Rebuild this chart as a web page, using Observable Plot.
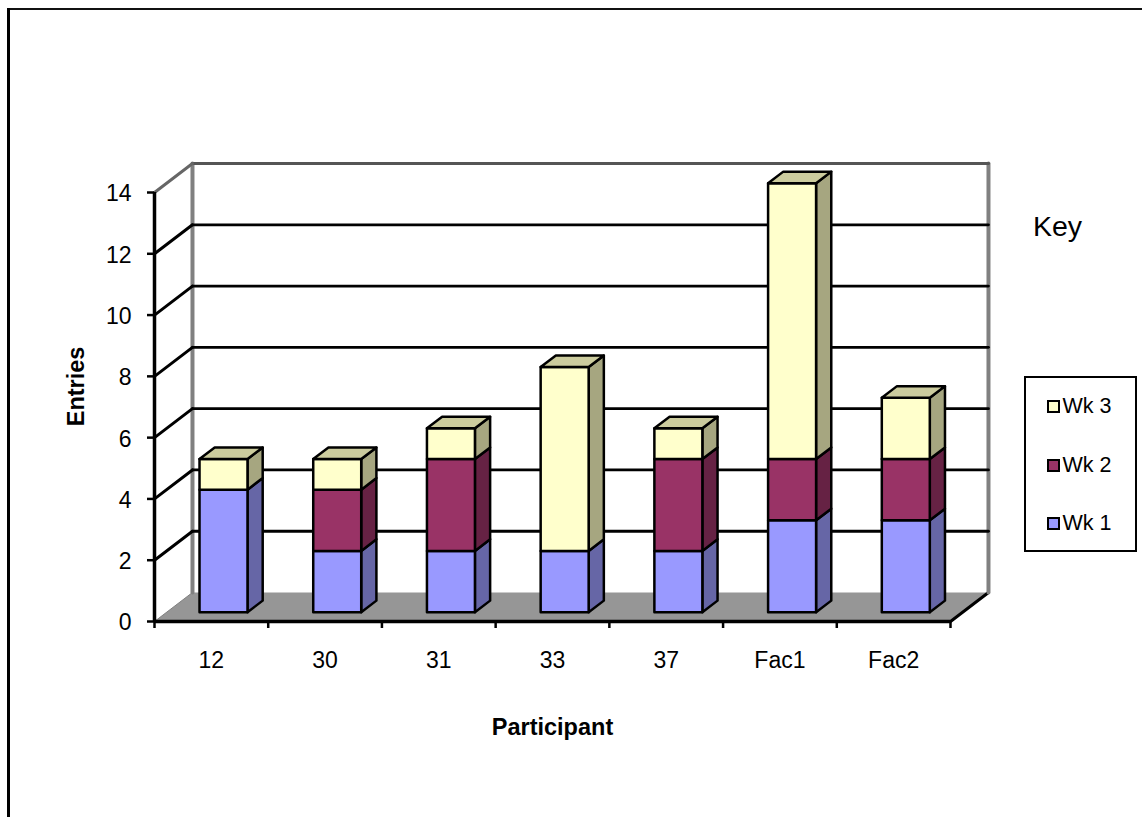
<!DOCTYPE html>
<html>
<head>
<meta charset="utf-8">
<script src="https://cdn.jsdelivr.net/npm/d3@7"></script>
<script src="https://cdn.jsdelivr.net/npm/@observablehq/plot@0.6"></script>
<style>
  html, body { margin: 0; padding: 0; background: #fff; overflow: hidden; }
  #page { position: relative; width: 1142px; height: 817px; font-family: "Liberation Sans", Arial, sans-serif; color: #000; }
  #page svg { position: absolute; left: 0; top: 0; font-family: "Liberation Sans", Arial, sans-serif; }
  #edgeTop { position: absolute; left: 7px; right: 0; top: 8px; height: 2px; background: #111; }
  #edgeLeft { position: absolute; left: 7px; top: 8px; bottom: 0; width: 3px; background: #000; }
  #key { position: absolute; left: 1033px; top: 210px; font-size: 28.5px; line-height: 32px; }
  #legend { position: absolute; left: 1024px; top: 376px; width: 108.5px; height: 172px; border: 2.5px solid #000; box-sizing: content-box; }
  .entry { position: absolute; left: 20.5px; height: 24px; display: flex; align-items: center; font-size: 21.5px; white-space: nowrap; }
  .swatch { display: block; width: 9px; height: 9px; border: 2px solid #000; margin-right: 3px; }
</style>
</head>
<body>
<div id="page">
  <div id="edgeTop"></div>
  <div id="edgeLeft"></div>
  <div id="key">Key</div>
  <div id="legend"></div>
</div>
<script>
const participants = ["12", "30", "31", "33", "37", "Fac1", "Fac2"];
const seriesNames = ["Wk 1", "Wk 2", "Wk 3"];
const wk1 = [4, 2, 2, 2, 2, 3, 3];
const wk2 = [0, 2, 3, 0, 3, 2, 2];
const wk3 = [1, 1, 1, 6, 1, 9, 2];
const yTicks = [0, 2, 4, 6, 8, 10, 12, 14];

const frontColors = ["#9999ff", "#993366", "#ffffcc"];
const sideColors = ["#6666a6", "#662244", "#a6a680"];
const topColor = "#cccc9e";

// Oblique projection: depth z runs 0 (front of the box) to 1 (back wall).
const depthX = 0.334;
const depthY = 0.946;
const project = (x, y, z) => ({x: x + z * depthX, y: y + z * depthY});

const barHalf = 0.211;
const barFront = 0.32;
const barBack = 0.72;

// One closed polygon per visible face of each stacked block.
const faces = [];
const addFace = (id, color, corners) =>
  corners.forEach(([x, y, z]) => faces.push({id, color, ...project(x, y, z)}));

participants.forEach((name, i) => {
  const l = i + 0.5 - barHalf;
  const r = i + 0.5 + barHalf;
  let base = 0;
  [wk1[i], wk2[i], wk3[i]].forEach((value, s) => {
    if (value === 0) return;
    const top = base + value;
    addFace(`${name}-${s}-side`, sideColors[s], [[r, base, barFront], [r, base, barBack], [r, top, barBack], [r, top, barFront]]);
    addFace(`${name}-${s}-front`, frontColors[s], [[l, base, barFront], [r, base, barFront], [r, top, barFront], [l, top, barFront]]);
    base = top;
  });
  addFace(`${name}-top`, topColor, [[l, base, barFront], [r, base, barFront], [r, base, barBack], [l, base, barBack]]);
});

const floor = [[0, 0, 0], [7, 0, 0], [7, 0, 1], [0, 0, 1]].map(([x, y, z]) => project(x, y, z));
const wallGrid = yTicks.filter(v => v > 0 && v < 14).flatMap(v => [project(0, v, 1), project(7, v, 1)].map(p => ({...p, v})));
const sideGrid = yTicks.filter(v => v > 0 && v < 14).flatMap(v => [project(0, v, 0), project(0, v, 1)].map(p => ({...p, v})));
const edge = (a, b) => [project(...a), project(...b)];

const chart = Plot.plot({
  width: 1142,
  height: 817,
  marginLeft: 154,
  marginRight: 192,
  marginTop: 192,
  marginBottom: 196,
  style: {background: "transparent", overflow: "visible"},
  x: {domain: [0, 7], label: null},
  y: {domain: [0, 14], label: null},
  color: {type: "identity"},
  marks: [
    // Floor and its outer edges
    Plot.line(floor, {x: "x", y: "y", fill: "#969696", stroke: "none", curve: "linear-closed"}),
    Plot.line(edge([0, 0, 0], [0, 0, 1]), {x: "x", y: "y", stroke: "#808080", strokeWidth: 1}),
    Plot.line(edge([7, 0, 0], [7, 0, 1]), {x: "x", y: "y", stroke: "#000", strokeWidth: 3}),
    // Wall outline
    Plot.line(edge([0, 0, 1], [0, 14, 1]), {x: "x", y: "y", stroke: "#808080", strokeWidth: 4}),
    Plot.line(edge([7, 0, 1], [7, 14, 1]), {x: "x", y: "y", stroke: "#808080", strokeWidth: 4}),
    Plot.line(edge([0, 14, 1], [7, 14, 1]), {x: "x", y: "y", stroke: "#555", strokeWidth: 3}),
    Plot.line(edge([0, 14, 0], [0, 14, 1]), {x: "x", y: "y", stroke: "#666", strokeWidth: 3}),
    // Gridlines on the back and side walls
    Plot.line(wallGrid, {x: "x", y: "y", z: "v", stroke: "#000", strokeWidth: 2.8}),
    Plot.line(sideGrid, {x: "x", y: "y", z: "v", stroke: "#000", strokeWidth: 3}),
    // Axes
    Plot.ruleY([0], {stroke: "#000", strokeWidth: 3.5}),
    Plot.ruleX([0], {stroke: "#000", strokeWidth: 3.5}),
    Plot.axisY({ticks: yTicks, tickSize: 7, tickFormat: () => "", strokeWidth: 2.5, stroke: "#000", label: null}),
    Plot.text(yTicks, {x: 0, y: d => d, text: d => `${d}`, textAnchor: "end", dx: -23, dy: 1.5, fontSize: 23}),
    Plot.axisX({ticks: d3.range(0, 8), tickSize: 7, tickFormat: () => "", strokeWidth: 2.5, stroke: "#000", label: null}),
    Plot.axisX({ticks: participants.map((_, i) => i + 0.5), tickSize: 0, tickPadding: 30, fontSize: 23, tickFormat: d => participants[d - 0.5], label: null}),
    // Axis titles
    Plot.text(["Entries"], {frameAnchor: "left", textAnchor: "middle", lineAnchor: "middle", dx: -78, y: 7.67, rotate: -90, fontSize: 23.5, fontWeight: "bold"}),
    Plot.text(["Participant"], {frameAnchor: "bottom", dy: 113, fontSize: 23.5, fontWeight: "bold"}),
    // Stacked columns
    Plot.line(faces, {x: "x", y: "y", z: "id", fill: "color", stroke: "#000", strokeWidth: 2.5, strokeLinejoin: "round", curve: "linear-closed"})
  ]
});
document.getElementById("page").prepend(chart);

// Legend, top entry first
const legend = document.getElementById("legend");
[2, 1, 0].forEach((s, row) => {
  const entry = document.createElement("div");
  entry.className = "entry";
  entry.style.top = `${16.5 + row * 58.5}px`;
  const swatch = document.createElement("span");
  swatch.className = "swatch";
  swatch.style.background = frontColors[s];
  entry.append(swatch, seriesNames[s]);
  legend.append(entry);
});
</script>
</body>
</html>
